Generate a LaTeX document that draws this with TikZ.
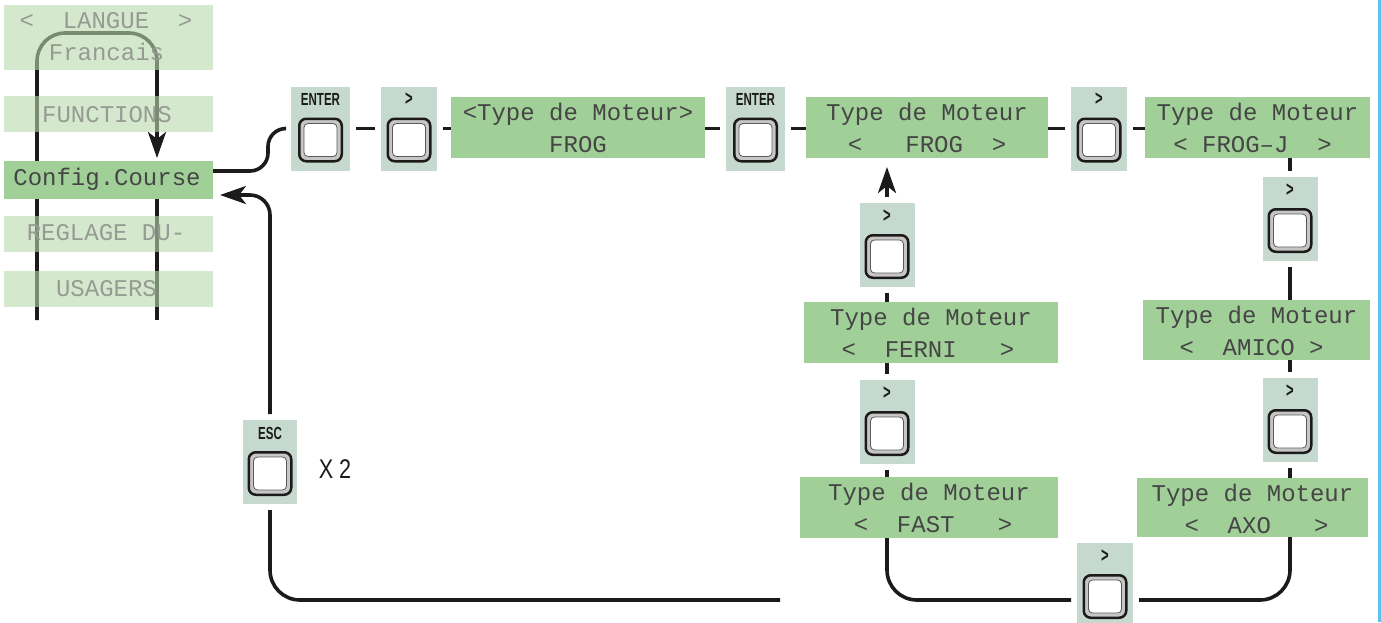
\documentclass[tikz,border=0pt]{standalone}
\usepackage{fontspec}
\usepackage{graphicx}
\setmainfont{Liberation Sans}
\newfontfamily\lcdfont{Liberation Mono}
\usetikzlibrary{arrows.meta,calc,backgrounds}
\definecolor{dispgreen}{HTML}{A1CF98}
\definecolor{lightgreen}{RGB}{184,217,171}
\definecolor{btnbg}{HTML}{C5D9CE}
\definecolor{linecol}{HTML}{1C1A1B}
\definecolor{lcdtext}{HTML}{454545}
\definecolor{fadetext}{HTML}{959B93}
\definecolor{edgeblue}{HTML}{5CC2EC}
\tikzset{
  conn/.style={draw=linecol, line width=3.6pt},
  disp/.style={fill=dispgreen, draw=none, inner sep=0pt, outer sep=0pt, rectangle},
  fade/.style={fill=lightgreen, fill opacity=0.6, draw=none, inner sep=0pt, outer sep=0pt, rectangle},
  lcd/.style={font=\lcdfont\fontsize{24}{24}\selectfont, text=lcdtext, inner sep=0pt, anchor=base},
  lcdfade/.style={lcd, text=fadetext},
  btnbox/.style={fill=btnbg, draw=none, inner sep=0pt, outer sep=6pt, minimum height=84pt, rectangle},
  btnlabel/.style={font=\bfseries\fontsize{17.5}{17.5}\selectfont, text=linecol, inner sep=0pt},
  keyouter/.style={draw=linecol, line width=2.5pt, fill=gray!45, rounded corners=7pt, inner sep=0pt, outer sep=0pt, minimum width=42.5pt, minimum height=42.5pt},
  keyinner/.style={draw=black!65, line width=0.8pt, fill=white, rounded corners=4pt, inner sep=0pt, outer sep=0pt, minimum width=33pt, minimum height=33pt},
  tip/.style={-{Stealth[length=26pt,width=18pt,inset=7pt]}},
}
\newcommand\dispbox[8]{%
  \node[disp, minimum width={#4-#2}, minimum height={#5-#3}] (#1) at ({(#2+#4)/2},{(#3+#5)/2}) {};
  \node[lcd] (#1-a) at ({(#2+#4)/2},{#3+23}) {#6};
  \node[lcd] (#1-b) at ({(#2+#4)/2+#8},{#3+55}) {#7};
}
\newcommand\keybtn[5]{%
  \node[btnbox, minimum width=#4] (#1) at (#2,{#3+42}) {};
  \node[btnlabel] (#1-l) at (#2,{#3+13}) {#5};
  \node[keyouter] (#1-k) at (#2,{#3+53.5}) {};
  \node[keyinner] (#1-i) at (#2,{#3+53.5}) {};
}
\newcommand\gt{{\fontsize{21}{21}\selectfont\scalebox{0.62}[1]{>}}}
\begin{document}
\begin{tikzpicture}[x=1pt,y=-1pt]
\useasboundingbox (0,0) rectangle (1381,622);
\draw[edgeblue, line width=2.5pt] (1379.5,0) coordinate (e1) -- (1379.5,622) coordinate (e2);

% left menu
\node[fade, minimum width=209, minimum height=65] (langue) at (108.5,37.5) {};
\node[lcdfade] (langue-a) at (106,28) {<~~LANGUE~~>};
\node[lcdfade] (langue-b) at (106.5,60) {Francais};
\node[fade, minimum width=209, minimum height=36] (functions) at (108.5,114) {};
\node[lcdfade] (functions-a) at (107,122) {FUNCTIONS};
\node[disp, minimum width=209, minimum height=38] (config) at (108.5,180) {};
\node[lcd] (config-a) at (107,185) {Config.Course};
\node[fade, minimum width=209, minimum height=36] (reglage) at (108.5,234) {};
\node[lcdfade] (reglage-a) at (106,240) {REGLAGE DU-};
\node[fade, minimum width=209, minimum height=36] (usagers) at (108.5,289) {};
\node[lcdfade] (usagers-a) at (106.5,296) {USAGERS};

% displays
\dispbox{d1}{451}{97}{705}{158}{<Type de Moteur>}{FROG}{0}
\dispbox{d2}{806}{97}{1048}{158}{Type de Moteur}{<~~~FROG~~>}{0}
\dispbox{d3}{1145}{97}{1370}{158}{Type de Moteur}{<~FROG–J~~>}{-5}
\dispbox{d4}{1143}{300}{1370}{360}{Type de Moteur}{<~~AMICO~>}{-5}
\dispbox{d5}{1137}{478}{1368}{537}{Type de Moteur}{<~~AXO~~~>}{4}
\dispbox{fast}{800}{477}{1058}{538}{Type de Moteur}{<~~FAST~~~>}{4}
\dispbox{ferni}{804}{302}{1058}{363}{Type de Moteur}{<~~FERNI~~~>}{-3}

% buttons
\keybtn{b1}{320.5}{86.5}{59}{\scalebox{0.66}[1]{ENTER}}
\keybtn{b2}{409}{86.5}{56}{\gt}
\keybtn{b3}{755.5}{86.5}{59}{\scalebox{0.66}[1]{ENTER}}
\keybtn{b4}{1099}{86.5}{56}{\gt}
\keybtn{b5}{1290}{177}{55}{\gt}
\keybtn{b6}{1290}{378}{55}{\gt}
\keybtn{b7}{1105}{543}{56}{\gt}
\keybtn{b8}{887}{380}{55}{\gt}
\keybtn{b9}{887}{203}{55}{\gt}
\keybtn{esc}{270}{420}{54}{\scalebox{0.66}[1]{ESC}}
\node[font=\fontsize{27}{27}\selectfont, text=linecol, inner sep=0pt] (x2) at (335,469) {\scalebox{0.8}[1]{X 2}};

\begin{scope}[on background layer]
  % menu loop
  \coordinate (ml) at (37,320);
  \coordinate (mr) at (157,320);
  \draw[conn, tip, rounded corners=28pt, shorten >=3pt] (ml) -- (37,33) -- (157,33) -- (config.north -| mr);
  \draw[conn] (config.south -| mr) -- (mr);
  % into chain
  \draw[conn, rounded corners=18pt] ([yshift=9pt]config.east) -- (268,171) -- (268,128.5) -- (b1.west);
  \draw[conn] (b1.east) -- (b1.east -| b2.west);
  \draw[conn] (b2.east) -- (b2.east -| d1.west);
  \draw[conn] (d1.east |- b3.west) -- (b3.west);
  \draw[conn] (b3.east) -- (b3.east -| d2.west);
  \draw[conn] (d2.east |- b4.west) -- (b4.west);
  \draw[conn] (b4.east) -- (b4.east -| d3.west);
  % right column
  \draw[conn] (b5.north |- d3.south) -- (b5.north);
  \draw[conn] (b5.south) -- (b5.south |- d4.north);
  \draw[conn] (b6.north |- d4.south) -- (b6.north);
  \draw[conn] (b6.south) -- (b6.south |- d5.north);
  % bottom loop
  \coordinate (loopy) at (0,600);
  \draw[conn, rounded corners=30pt] (b6.south |- d5.south) -- (b6.south |- loopy) -- (b7.east |- loopy);
  \draw[conn, rounded corners=30pt] (b7.west |- loopy) -- (b8.south |- loopy) -- (b8.south |- fast.south);
  % left column
  \draw[conn] (b8.south) -- (b8.south |- fast.north);
  \draw[conn] (b8.north) -- (b8.north |- ferni.south);
  \draw[conn] (b9.south) -- (b9.south |- ferni.north);
  \draw[conn, tip, shorten >=9pt] (b9.north) -- (b9.north |- d2.south);
  % ESC return
  \draw[conn, tip, rounded corners=20pt, shorten >=7pt] (esc.north) -- (esc.north |- 0,195) -- (config.east |- 0,195);
  \coordinate (escend) at (780,600);
  \draw[conn, rounded corners=30pt] (esc.south) -- (esc.south |- loopy) -- (escend);
\end{scope}
\end{tikzpicture}
\end{document}
